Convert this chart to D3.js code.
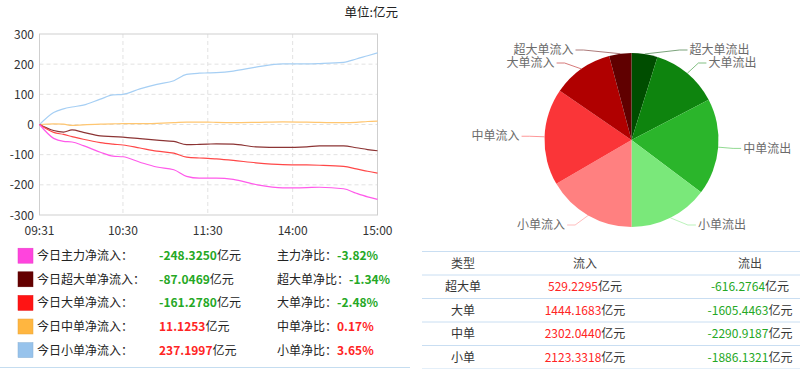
<!DOCTYPE html>
<html>
<head>
<meta charset="utf-8">
<script src="https://cdn.jsdelivr.net/npm/d3@7/dist/d3.min.js"></script>
<style>
	body{ margin:0; background:#fff; }
	svg{ display:block; font-family:"Noto Sans CJK SC","Noto Sans",sans-serif; }
</style>
</head>
<body>
<div id="chart"></div>
<script>
// sample times
var times = ['09:31','09:41','09:48','09:54','10:02','10:14','10:23','10:30','10:42','10:54','11:06','11:15','11:24','11:30',
	'13:06','13:18','13:34','13:53','14:10','14:19','14:36','14:45','14:53','15:00'];
var xTicks = ['09:31','10:30','11:30','14:00','15:00'];
var yTicks = [300,200,100,0,-100,-200,-300];

var mainFlow  = [0,-46,-56,-58,-70,-92,-105,-107,-125,-141,-150,-172,-178,-178,-178,-182,-199,-210,-209,-208,-213,-228,-240,-248.3];
var superFlow = [0,-20,-25,-18,-26,-38,-40,-42,-47,-52,-56,-67,-66,-65,-64,-65,-74,-76,-74,-71,-71,-77,-83,-87.0];
var bigFlow   = [0,-26,-33,-40,-49,-60,-65,-68,-78,-88,-95,-108,-111,-112,-114,-119,-127,-133,-134,-135,-139,-147,-155,-161.3];
var midFlow   = [0,2,1,-3,-1,1,2,3,3,4,6,8,8,8,7,6,7,9,8,7,6,7,10,11.1];
var smallFlow = [0,40,52,58,64,84,98,100,118,133,145,166,170,171,172,177,190,201,201,202,206,217,228,237.2];

var legendNames  = ['今日主力净流入：','今日超大单净流入：','今日大单净流入：','今日中单净流入：','今日小单净流入：'];
var legendValues = ['-248.3250','-87.0469','-161.2780','11.1253','237.1997'];
var ratioNames   = ['主力净比：','超大单净比：','大单净比：','中单净比：','小单净比：'];
var ratioValues  = ['-3.82%','-1.34%','-2.48%','0.17%','3.65%'];

var tableTypes = ['超大单','大单','中单','小单'];
var inflow  = [529.2295,1444.1683,2302.0440,2123.3318];
var outflow = [-616.2764,-1605.4463,-2290.9187,-1886.1321];

var seriesColors = ['#ff44dd','#640000','#ff1414','#ffb640','#97c3ec'];
var lineColors   = ['#ff5aea','#8c3434','#ff4848','#ffc670','#a6cff4'];
var outColors = ['#004d00','#0e840e','#2bb52b','#7ae87a'];
var inColors  = ['#600000','#b00000','#fa3538','#ff8080'];
var RED = '#ff2424', GREEN = '#25a825';

var svg = d3.select('#chart').append('svg')
	.attr('width', 800).attr('height', 369);

function minuteIndex(t){
	var p = t.split(':'), m = +p[0]*60 + +p[1];
	return m <= 690 ? m - 571 : m - 781 + 120;
}

drawLines();
drawLegend();
drawPie();
drawTable();

function drawLines(){
	var x = d3.scaleLinear().domain([0,239]).range([39.5,377.5]);
	var y = d3.scaleLinear().domain([-300,300]).range([215,34]);
	var g = svg.append('g').attr('class','line-chart');

	svg.append('text')
		.attr('x', 398).attr('y', 17)
		.attr('text-anchor','end')
		.style('font-size','12.5px').style('fill','#222')
		.text('单位:亿元');

	// grid
	g.selectAll('.hgrid').data(yTicks.filter(d => d>-300 && d<300))
		.enter().append('line')
		.attr('x1', x(0)).attr('x2', x(239))
		.attr('y1', d => y(d)).attr('y2', d => y(d))
		.style('stroke','#e2e2e2').style('stroke-dasharray','4,3');
	g.selectAll('.vgrid').data(xTicks.slice(1,4))
		.enter().append('line')
		.attr('x1', d => x(minuteIndex(d))).attr('x2', d => x(minuteIndex(d)))
		.attr('y1', y(300)).attr('y2', y(-300))
		.style('stroke','#e2e2e2').style('stroke-dasharray','4,3');

	g.append('rect')
		.attr('x', x(0)).attr('y', y(300))
		.attr('width', x(239)-x(0)).attr('height', y(-300)-y(300))
		.style('fill','none').style('stroke','#cfcfcf');

	g.selectAll('.ylab').data(yTicks)
		.enter().append('text')
		.attr('x', 34).attr('y', d => y(d)+4.5)
		.attr('text-anchor','end')
		.style('font-size','12px').style('fill','#333')
		.text(d => d);
	g.selectAll('.xlab').data(xTicks)
		.enter().append('text')
		.attr('x', d => x(minuteIndex(d))).attr('y', 234.5)
		.attr('text-anchor','middle')
		.style('font-size','12px').style('fill','#333')
		.text(d => d);

	var line = d3.line()
		.x((d,i) => x(minuteIndex(times[i])))
		.y(d => y(d))
		.curve(d3.curveMonotoneX);

	var all = [smallFlow, midFlow, superFlow, bigFlow, mainFlow];
	var cols = [lineColors[4], lineColors[3], lineColors[1], lineColors[2], lineColors[0]];
	g.selectAll('path.flow').data(all)
		.enter().append('path')
		.attr('class','flow')
		.attr('d', line)
		.style('fill','none')
		.style('stroke', (d,i) => cols[i])
		.style('stroke-width', 1.2);
}

function drawLegend(){
	var g = svg.append('g').attr('class','legend');
	var rows = g.selectAll('g').data(legendNames)
		.enter().append('g')
		.attr('transform', (d,i) => 'translate(0,' + (255.7 + i*23.6) + ')');

	rows.append('rect')
		.attr('x', 18).attr('y', -7.5)
		.attr('width', 15).attr('height', 15)
		.style('fill', (d,i) => seriesColors[i])
		.style('stroke', (d,i) => d3.color(seriesColors[i]).darker(0.3))
		.style('stroke-width', 0.5);

	rows.append('text')
		.attr('x', 37).attr('y', 4.5)
		.style('font-size','12px').style('fill','#222')
		.text(d => d);

	var v = rows.append('text')
		.attr('x', 159).attr('y', 4.5)
		.style('font-size','12px');
	v.append('tspan')
		.style('font-weight','bold')
		.style('fill', (d,i) => legendValues[i][0]=='-' ? GREEN : RED)
		.text((d,i) => legendValues[i]);
	v.append('tspan').style('fill','#222').text('亿元');

	var r = rows.append('text')
		.attr('x', 277).attr('y', 4.5)
		.style('font-size','12px');
	r.append('tspan').style('fill','#222').text((d,i) => ratioNames[i]);
	r.append('tspan')
		.style('font-weight','bold')
		.style('fill', (d,i) => ratioValues[i][0]=='-' ? GREEN : RED)
		.text((d,i) => ratioValues[i]);

	g.append('line')
		.attr('x1', 0).attr('x2', 410)
		.attr('y1', 367.5).attr('y2', 367.5)
		.style('stroke','#c5ddf0');
}

function drawPie(){
	var cx = 631.5, cy = 140, r = 87, R = r + 15;
	var data = [];
	tableTypes.forEach((t,i) => data.push({name: t + '流出', value: -outflow[i], color: outColors[i]}));
	tableTypes.slice().reverse().forEach((t,i) => {
		var k = tableTypes.length - 1 - i;
		data.push({name: t + '流入', value: inflow[k], color: inColors[k]});
	});

	var arcs = d3.pie().sort(null).value(d => d.value)(data);
	var arc = d3.arc().innerRadius(0).outerRadius(r);
	var g = svg.append('g').attr('transform','translate(' + cx + ',' + cy + ')');

	g.selectAll('path').data(arcs)
		.enter().append('path')
		.attr('d', arc)
		.style('fill', d => d.data.color);

	// label layout: radial point, clamp into box, push apart per side
	arcs.forEach(d => {
		d.mid = (d.startAngle + d.endAngle)/2;
		d.right = Math.sin(d.mid) >= 0;
		d.ly = Math.max(-90, Math.min(85, -R*Math.cos(d.mid)));
	});
	[true,false].forEach(side => {
		var s = arcs.filter(d => d.right==side).sort((a,b) => a.ly - b.ly);
		for(var i=1;i<s.length;i++) if(s[i].ly - s[i-1].ly < 13) s[i].ly = s[i-1].ly + 13;
	});
	arcs.forEach(d => {
		var dx = Math.sqrt(Math.max(0, R*R - d.ly*d.ly));
		d.lx = d.right ? dx : -dx;
	});

	g.selectAll('polyline').data(arcs)
		.enter().append('polyline')
		.attr('points', d => {
			var e = [r*Math.sin(d.mid), -r*Math.cos(d.mid)];
			var end = d.lx + (d.right ? 8 : -8);
			return e.join(',') + ' ' + d.lx + ',' + d.ly + ' ' + end + ',' + d.ly;
		})
		.style('fill','none')
		.style('stroke', d => d3.interpolateRgb(d.data.color, '#fff')(0.35))
		.style('stroke-width', 0.8);

	g.selectAll('text').data(arcs)
		.enter().append('text')
		.attr('x', d => d.lx + (d.right ? 10 : -10))
		.attr('y', d => d.ly + 4.2)
		.attr('text-anchor', d => d.right ? 'start' : 'end')
		.style('font-size','12px').style('fill','#6b6b6b')
		.text(d => d.data.name);
}

function drawTable(){
	var g = svg.append('g').attr('class','flow-table');
	var cols = [463, 585, 750];
	var top = 251.5, rh = 23.5;

	g.selectAll('line').data(d3.range(6))
		.enter().append('line')
		.attr('x1', 422).attr('x2', 800)
		.attr('y1', d => top + d*rh).attr('y2', d => top + d*rh)
		.style('stroke','#c9def2');

	var head = ['类型','流入','流出'];
	g.selectAll('.head').data(head)
		.enter().append('text')
		.attr('x', (d,i) => cols[i]).attr('y', top + rh/2 + 4.5)
		.attr('text-anchor','middle')
		.style('font-size','12px').style('fill','#444')
		.text(d => d);

	var rows = g.selectAll('.row').data(tableTypes)
		.enter().append('g')
		.attr('transform', (d,i) => 'translate(0,' + (top + rh*(i+1) + rh/2 + 4.5) + ')');

	rows.append('text')
		.attr('x', cols[0]).attr('text-anchor','middle')
		.style('font-size','12px').style('fill','#333')
		.text(d => d);

	var a = rows.append('text')
		.attr('x', cols[1]).attr('text-anchor','middle')
		.style('font-size','12px');
	a.append('tspan').style('fill', RED).text((d,i) => inflow[i].toFixed(4));
	a.append('tspan').style('fill','#333').text('亿元');

	var b = rows.append('text')
		.attr('x', cols[2]).attr('text-anchor','middle')
		.style('font-size','12px');
	b.append('tspan').style('fill', GREEN).text((d,i) => outflow[i].toFixed(4));
	b.append('tspan').style('fill','#333').text('亿元');
}
</script>
</body>
</html>
